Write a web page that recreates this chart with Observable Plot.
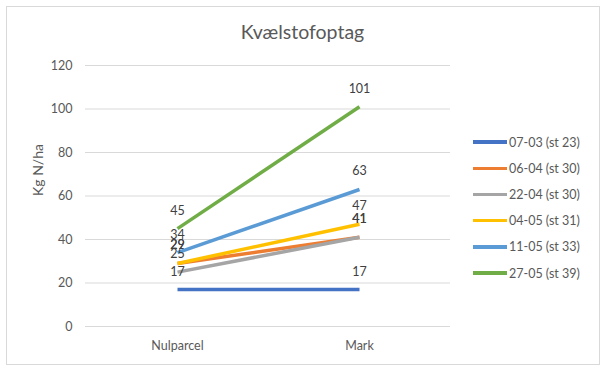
<!DOCTYPE html>
<html>
<head>
<meta charset="utf-8">
<script src="https://cdn.jsdelivr.net/npm/d3@7"></script>
<script src="https://cdn.jsdelivr.net/npm/@observablehq/plot@0.6"></script>
<style>
  html, body { margin: 0; padding: 0; background: #fff; }
  #wrap { position: relative; width: 605px; height: 372px; font-family: Lato, "Open Sans", sans-serif; }
  #border { position: absolute; left: 6px; top: 6px; width: 592px; height: 357px; border: 1px solid #d9d9d9; pointer-events: none; }
  #title { position: absolute; left: 0; width: 605px; top: 20px; text-align: center; font-size: 19.5px; color: #595959; }
  #legend { position: absolute; left: 473px; top: 129px; }
  .item { height: 26.2px; display: flex; align-items: center; font-size: 12.5px; color: #595959; white-space: nowrap; }
  .swatch { width: 34px; height: 3.5px; margin-right: 2px; }
  #chart { position: absolute; left: 0; top: 0; }
</style>
</head>
<body>
<div id="wrap">
  <div id="chart"></div>
  <div id="title">Kvælstofoptag</div>
  <div id="legend"></div>
  <div id="border"></div>
</div>
<script>
const categories = ["Nulparcel", "Mark"];
const seriesNames = ["07-03 (st 23)", "06-04 (st 30)", "22-04 (st 30)", "04-05 (st 31)", "11-05 (st 33)", "27-05 (st 39)"];
const nulparcelValues = [17, 29, 25, 29, 34, 45];
const markValues = [17, 41, 41, 47, 63, 101];
const seriesColors = ["#4472C4", "#ED7D31", "#A5A5A5", "#FFC000", "#5B9BD5", "#70AD47"];
const yTicks = [0, 20, 40, 60, 80, 100, 120];

const data = [];
seriesNames.forEach((s, i) => {
  data.push({series: s, cat: categories[0], value: nulparcelValues[i]});
  data.push({series: s, cat: categories[1], value: markValues[i]});
});

const font = "Lato, 'Open Sans', sans-serif";
const chart = Plot.plot({
  width: 605,
  height: 372,
  marginLeft: 85,
  marginRight: 155,
  marginTop: 65,
  marginBottom: 46,
  style: {fontFamily: font, fontSize: "12.5px", color: "#595959", background: "transparent"},
  x: {type: "point", domain: categories, padding: 0.5, axis: null},
  y: {domain: [0, 120], axis: null},
  color: {domain: seriesNames, range: seriesColors},
  marks: [
    Plot.gridY(yTicks, {stroke: "#d9d9d9", strokeOpacity: 1, strokeWidth: 1}),
    Plot.axisY(yTicks, {tickSize: 0, tickPadding: 13, label: null, fill: "#595959", fontSize: 12.5}),
    Plot.axisX(categories, {tickSize: 0, tickPadding: 15, label: null, fill: "#595959", fontSize: 12.5}),
    Plot.text(["Kg N/ha"], {frameAnchor: "left", rotate: -90, dx: -47, fill: "#595959", fontSize: 14}),
    Plot.lineY(data, {x: "cat", y: "value", z: "series", stroke: "series", strokeWidth: 3.5, strokeLinecap: "butt"}),
    Plot.text(data, {x: "cat", y: "value", text: d => String(d.value), dy: -18, fill: "#404040", fontSize: 12.5})
  ]
});
document.getElementById("chart").appendChild(chart);

const legend = document.getElementById("legend");
seriesNames.forEach((s, i) => {
  const item = document.createElement("div");
  item.className = "item";
  const sw = document.createElement("span");
  sw.className = "swatch";
  sw.style.background = seriesColors[i];
  const t = document.createElement("span");
  t.textContent = s;
  item.appendChild(sw);
  item.appendChild(t);
  legend.appendChild(item);
});
</script>
</body>
</html>
